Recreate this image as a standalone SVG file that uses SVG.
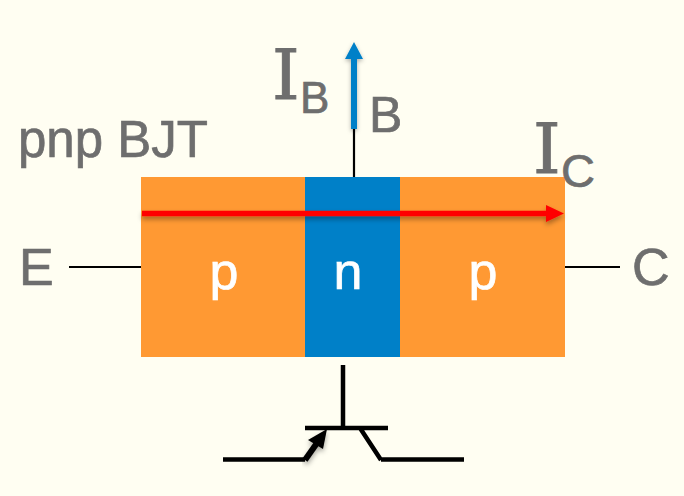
<svg xmlns="http://www.w3.org/2000/svg" width="684" height="496" viewBox="0 0 684 496">
<style>
text{font-family:"Liberation Sans",Arial,sans-serif;fill:#6e6e6e;stroke:#6e6e6e;stroke-width:.7}
.big{font-size:52px}
.i{font-family:"DejaVu Serif","Liberation Serif",serif;font-size:70px;stroke-width:1}
.w{fill:#fff;stroke:#fff;font-size:52px;text-anchor:middle}
.t{stroke:#000;stroke-width:2.2;fill:none}
.s{stroke:#000;stroke-width:4.5;fill:none}
</style>
<defs>
<filter id="sh" x="-10%" y="-100%" width="120%" height="300%"><feDropShadow dx="0" dy="3" stdDeviation="2.5" flood-color="#000" flood-opacity="0.35"/></filter>
<filter id="shv" x="-300%" y="-10%" width="700%" height="120%"><feDropShadow dx="0" dy="2" stdDeviation="2" flood-color="#000" flood-opacity="0.3"/></filter>
</defs>
<rect id="background" width="684" height="496" fill="#fffef2"/>
<g id="region-emitter"><rect x="141" y="177" width="165" height="180" fill="#ff9933"/><text class="w" x="224" y="289">p</text></g>
<g id="region-base"><rect x="305" y="177" width="96" height="180" fill="#0080c8"/><text class="w" x="348" y="289">n</text></g>
<g id="region-collector"><rect x="400" y="177" width="165" height="180" fill="#ff9933"/><text class="w" x="483" y="289">p</text></g>
<g id="connectors">
<path class="t" d="M69 267H141M565 267H620M354 129V177"/>
<path class="s" d="M343 365V428M305 428H388M223 459.500H305M381 459.500H464M360 428L381 460"/>
<g filter="url(#sh)"><path d="M305 460L317 443" stroke="#000" stroke-width="6" fill="none"/><path d="M327 429L308 440L323 449Z" fill="#000"/></g>
<g filter="url(#shv)"><path d="M354 42L345 59H351V129H357V59H363Z" fill="#0080c8"/></g>
<g filter="url(#sh)"><path d="M142 213.500H548" stroke="#ff0000" stroke-width="5.500" fill="none"/><path d="M564 213.500L546 205V222Z" fill="#ff0000"/></g>
</g>
<g id="labels">
<text x="18" y="157" style="font-size:51px">pnp BJT</text>
<text class="big" x="19" y="285">E</text>
<text class="big" x="632" y="285">C</text>
<text x="369" y="132" style="font-size:50px">B</text>
<text class="i" x="272" y="99">I</text>
<text style="font-size:44px" x="300" y="113">B</text>
<text class="i" x="533" y="173">I</text>
<text style="font-size:47px" x="561" y="187">C</text>
</g>
</svg>
